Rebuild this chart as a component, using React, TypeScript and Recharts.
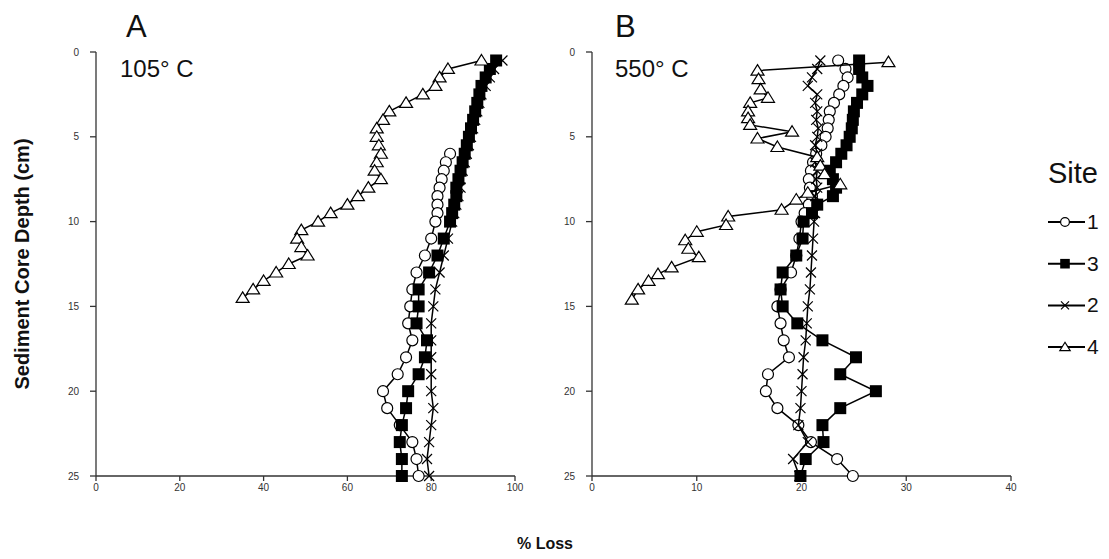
import React from 'react';
import { ScatterChart, Scatter, XAxis, YAxis } from 'recharts';

// depths (cm)
const depthUpper = [0.5, 1, 1.5, 2, 2.5, 3, 3.5, 4, 4.5, 5, 5.5, 6, 6.5, 7, 7.5, 8, 8.5, 9, 9.5, 10];
const depthLower = [11, 12, 13, 14, 15, 16, 17, 18, 19, 20, 21, 22, 23, 24, 25];
const depthMid = [6, 6.5, 7, 7.5, 8, 8.5, 9, 9.5, 10];
const depthA4 = [0.5, 1, 1.5, 2, 2.5, 3, 3.5, 4, 4.5, 5, 5.5, 6, 6.5, 7, 7.5, 8, 8.5, 9, 9.5, 10, 10.5, 11, 11.5, 12, 12.5, 13, 13.5, 14, 14.5];
const depthB4 = [0.6, 1.1, 1.6, 2.2, 2.7, 3, 3.5, 3.9, 4.3, 4.7, 5.1, 5.6, 6.2, 6.7, 7.2, 7.8, 8.3, 8.7, 9.3, 9.7, 10.2, 10.6, 11.1, 11.6, 12.1, 12.7, 13.1, 13.5, 14, 14.6];

// panel A, 105° C (% loss)
const lossA1 = [84.5, 83.5, 83, 82.5, 82, 81.5, 81.5, 81.5, 81, 80, 78.5, 76.5, 75.5, 75, 74.5, 75.5, 74, 72, 68.5, 69.5, 72.5, 75.5, 76.5, 77];
const lossA3 = [95.5, 94, 93, 92, 91.5, 91, 90.5, 90, 89.5, 89, 88.5, 88, 87.5, 87, 86.5, 86, 86, 85.5, 85, 84.5, 83, 81.5, 79.5, 77, 77, 76.5, 79, 78.5, 77, 74.5, 74, 73, 72.5, 73, 73];
const lossA2 = [97, 95, 94, 93, 92, 91.5, 91, 90.5, 90, 89.5, 89, 88.5, 88, 87.5, 87, 87, 86.5, 86, 85.5, 85, 84, 83, 82, 81, 80.5, 80, 80, 80, 80, 80, 80.5, 80, 79.5, 79, 79.5];
const lossA4 = [92, 84, 82, 81, 78, 74, 70, 68.5, 67, 67, 67.5, 68, 67, 66.5, 68, 65, 62.5, 60, 56, 53, 49, 48, 49, 50.5, 46, 43, 40, 37.5, 35];

// panel B, 550° C (% loss)
const lossB1 = [23.5, 24.2, 24.4, 24, 23.6, 23.1, 22.7, 22.6, 22.5, 22.3, 21.9, 21.4, 21.1, 20.9, 20.7, 20.8, 21, 20.7, 20.3, 20, 19.8, 19.5, 19, 18, 17.7, 18, 18.3, 18.8, 16.8, 16.6, 17.7, 19.7, 20.9, 23.4, 24.9];
const lossB3 = [25.5, 25.5, 25.8, 26.3, 25.8, 25.3, 25, 24.9, 24.8, 24.6, 24.3, 23.8, 23.3, 22.7, 23, 23.3, 23, 21.5, 21, 20.2, 20.1, 19.5, 18.2, 18, 18.2, 19.6, 22, 25.2, 23.7, 27.1, 23.7, 22, 22.1, 20.4, 19.9];
const lossB2 = [21.8, 21.5, 21, 20.6, 21.5, 21.3, 21.5, 21.4, 21.6, 21.5, 21.3, 21.5, 21.3, 21.5, 21.4, 21.5, 21.3, 21.4, 21.3, 21.2, 21.1, 21, 20.9, 20.8, 20.6, 20.5, 20.4, 20.2, 20.1, 20, 19.9, 19.7, 20.6, 19.2, 19.8];
const lossB4 = [28.3, 15.8, 15.9, 16.1, 16.8, 15.1, 14.9, 14.9, 15.1, 19.1, 15.8, 17.7, 21.5, 21.8, 22.2, 23.7, 20.6, 19.5, 18.1, 13, 12.8, 10, 8.9, 9.2, 10.2, 7.6, 6.3, 5.4, 4.4, 3.8];

const depthTicks = [0, 5, 10, 15, 20, 25];
const ticksA = [0, 20, 40, 60, 80, 100];
const ticksB = [0, 10, 20, 30, 40];
const sites = ['1', '3', '2', '4'];

const pts = (depths: number[], loss: number[]) => depths.map((d, i) => ({ depth: d, loss: loss[i] }));

const Marker = ({ cx, cy, kind, s = 1 }: any) => {
  if (cx == null || cy == null) return null;
  if (kind === 'circle') return <circle cx={cx} cy={cy} r={5.5 * s} fill="#fff" stroke="#000" strokeWidth={1.2} />;
  if (kind === 'square') return <rect x={cx - 6 * s} y={cy - 6 * s} width={12 * s} height={12 * s} fill="#000" />;
  if (kind === 'cross')
    return (
      <path
        d={`M${cx - 5 * s},${cy - 5 * s}L${cx + 5 * s},${cy + 5 * s}M${cx - 5 * s},${cy + 5 * s}L${cx + 5 * s},${cy - 5 * s}`}
        stroke="#000"
        strokeWidth={1.2}
      />
    );
  return (
    <path
      d={`M${cx},${cy - 6 * s}L${cx + 6.5 * s},${cy + 4.5 * s}L${cx - 6.5 * s},${cy + 4.5 * s}Z`}
      fill="#fff"
      stroke="#000"
      strokeWidth={1.2}
    />
  );
};

const kinds: Record<string, string> = { '1': 'circle', '3': 'square', '2': 'cross', '4': 'triangle' };
const tickStyle = { fontSize: 10, fill: '#333' };
const axisLine = { stroke: '#333', strokeWidth: 1.3 };

interface PanelProps {
  series: { site: string; data: { depth: number; loss: number }[] }[];
  max: number;
  ticks: number[];
}

const Panel = ({ series, max, ticks }: PanelProps) => (
  <ScatterChart width={484} height={498} margin={{ top: 44, right: 15, bottom: 0, left: 0 }}>
    <XAxis
      type="number"
      dataKey="loss"
      domain={[0, max]}
      ticks={ticks}
      interval={0}
      tickSize={5}
      tickMargin={3}
      height={30}
      tick={tickStyle}
      axisLine={axisLine}
      tickLine={axisLine}
    />
    <YAxis
      type="number"
      dataKey="depth"
      domain={[0, 25]}
      ticks={depthTicks}
      interval={0}
      reversed
      width={50}
      tickSize={6}
      tickMargin={11}
      tick={tickStyle}
      axisLine={axisLine}
      tickLine={axisLine}
    />
    {series.map((s) => (
      <Scatter
        key={s.site}
        name={s.site}
        data={s.data}
        line={{ stroke: '#000', strokeWidth: 1.5 }}
        shape={(p: any) => <Marker {...p} kind={kinds[s.site]} />}
        isAnimationActive={false}
      />
    ))}
  </ScatterChart>
);

const seriesA = [
  { site: '1', data: pts([...depthMid, ...depthLower], lossA1) },
  { site: '3', data: pts([...depthUpper, ...depthLower], lossA3) },
  { site: '2', data: pts([...depthUpper, ...depthLower], lossA2) },
  { site: '4', data: pts(depthA4, lossA4) },
];
const seriesB = [
  { site: '1', data: pts([...depthUpper, ...depthLower], lossB1) },
  { site: '3', data: pts([...depthUpper, ...depthLower], lossB3) },
  { site: '2', data: pts([...depthUpper, ...depthLower], lossB2) },
  { site: '4', data: pts(depthB4, lossB4) },
];

const abs = (left: number, top: number): React.CSSProperties => ({ position: 'absolute', left: left - 8, top: top - 8 });

export default function App() {
  return (
    <div style={{ position: 'relative', width: 1093, height: 543, fontFamily: '"Liberation Sans", Arial, sans-serif', color: '#111' }}>
      <div style={abs(46, 8)}>
        <Panel series={seriesA} max={100} ticks={ticksA} />
      </div>
      <div style={abs(542, 8)}>
        <Panel series={seriesB} max={40} ticks={ticksB} />
      </div>

      <div style={{ ...abs(126, 9), fontSize: 31 }}>A</div>
      <div style={{ ...abs(120, 55), fontSize: 24 }}>105° C</div>
      <div style={{ ...abs(615, 9), fontSize: 31 }}>B</div>
      <div style={{ ...abs(615, 55), fontSize: 24 }}>550° C</div>

      <svg style={abs(8, 100)} width={34} height={340}>
        <text
          transform="translate(21, 164) rotate(-90)"
          textAnchor="middle"
          fontSize={20}
          fontWeight="bold"
          fill="#111"
        >
          Sediment Core Depth (cm)
        </text>
      </svg>
      <div style={{ ...abs(445, 535), width: 200, textAlign: 'center', fontSize: 16, fontWeight: 'bold' }}>% Loss</div>

      <svg style={abs(1040, 150)} width={69} height={220}>
        <text x={8} y={33} fontSize={29} fill="#111">
          Site
        </text>
        {sites.map((site, i) => {
          const y = 72 + i * 41.7;
          return (
            <g key={site}>
              <line x1={8} x2={45} y1={y} y2={y} stroke="#000" strokeWidth={2} />
              <Marker cx={25} cy={y} kind={kinds[site]} s={0.8} />
              <text x={47} y={y + 7} fontSize={21} fill="#111">
                {site}
              </text>
            </g>
          );
        })}
      </svg>
    </div>
  );
}
